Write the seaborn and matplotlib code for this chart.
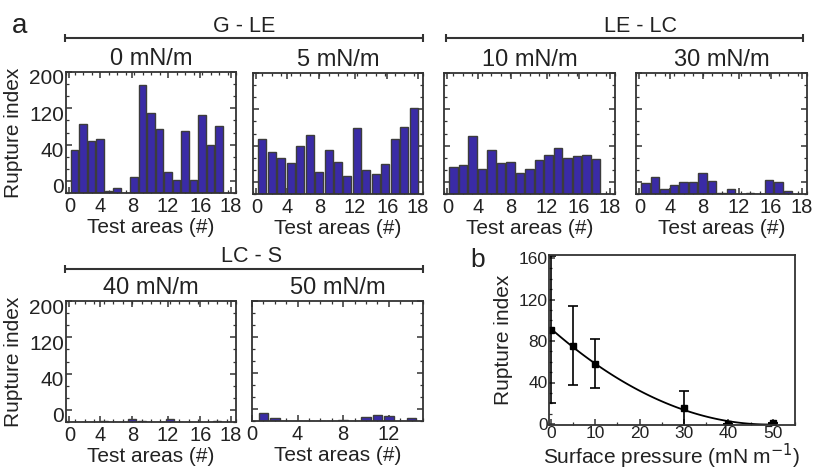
"""Rupture index per test area at several surface pressures (panel a) and its mean trend (panel b)."""
import matplotlib
matplotlib.use("Agg")
import matplotlib.pyplot as plt
import matplotlib.transforms as mtrans
import numpy as np
import seaborn as sns
from matplotlib.lines import Line2D
from matplotlib.ticker import FixedLocator, MultipleLocator

W, H = 816, 470

# --- data (bar axis runs 0..200 in plotted units) ---
rup_0 = [71, 113.5, 85.4, 89.8, 3.9, 8.3, 0, 25.9, 179, 132, 106.3, 34.7, 21, 103, 22, 129.4, 79.3, 110.2]
rup_5 = [90.9, 70, 60, 51.2, 79.9, 97.5, 36.9, 73.3, 53.4, 29.8, 109, 39, 32.5, 50, 90.9, 110.7, 142]
rup_10 = [45.2, 47.5, 96.1, 41.4, 72.4, 51.4, 53, 34.8, 40.9, 56.3, 64.1, 76.2, 59.1, 62.5, 64.1, 58]
rup_30 = [18.7, 28.7, 8.3, 14.9, 19.4, 19.9, 35.3, 21.5, 2.2, 8.3, 0, 1, 0, 22.7, 20.4, 5.5]
rup_40 = [0, 0, 0, 1, 0, 0, 4.5, 1, 0, 0, 5.6, 0, 0, 0, 0, 2.3, 0]
rup_50 = [12.8, 5, 0.5, 0, 0.5, 0, 0, 1.2, 0, 7.1, 10.5, 8.3, 0, 4.5]

titles = ["0 mN/m", "5 mN/m", "10 mN/m", "30 mN/m", "40 mN/m", "50 mN/m"]
groups = ["G - LE", "LE - LC", "LC - S"]
x_tick_labels = ["0", "4", "8", "12", "16", "18"]
x_tick_labels_50 = ["0", "4", "8", "12"]
y_tick_labels = ["0", "40", "120", "200"]

pressure = [0, 5, 10, 30, 40, 50]
rupture = [91, 75.5, 58, 15, 0, 0.7]
rupture_err = [71, 38, 23.5, 17, 0, 0]

BAR = "#3a2ba6"
EDGE = "#3c3c3c"
INK = "#222222"

sns.set_theme(style="ticks")
plt.rcParams["font.family"] = ["Liberation Sans", "DejaVu Sans"]
plt.rcParams.update({
    "axes.edgecolor": "#333333",
    "axes.linewidth": 1.3,
    "text.color": INK,
    "axes.labelcolor": INK,
    "xtick.color": "#333333",
    "ytick.color": "#333333",
    "xtick.labelcolor": INK,
    "ytick.labelcolor": INK,
})
NARROW = ["Liberation Sans Narrow", "Liberation Sans"]

fig = plt.figure(figsize=(W / 100, H / 100), dpi=100)


def px_axes(left, top, right, bottom):
    return fig.add_axes([left / W, 1 - bottom / H, (right - left) / W, (bottom - top) / H])


def px_line(x0, x1, y):
    fig.add_artist(Line2D([x0 / W, x1 / W], [1 - y / H, 1 - y / H], transform=fig.transFigure,
                          color="#333333", lw=1.5, marker="|", markersize=6, markeredgewidth=1.5))


# values, x extent, box (l, t, r, b in px), show y labels
panels = [
    (rup_0, 20, (66, 72, 236, 193), True),
    (rup_5, 18, (253, 73, 423, 194), False),
    (rup_10, 18, (444, 73, 615, 194), False),
    (rup_30, 18, (636, 73, 807, 194), False),
    (rup_40, 18, (66, 301, 236, 422), True),
    (rup_50, 15, (252, 301, 423, 421), False),
]
tick_frac = [0.02, 0.2, 0.39, 0.6, 0.79, 0.97]
label_shift = mtrans.ScaledTranslation(0, -0.05, fig.dpi_scale_trans)

for i, (vals, xmax, box, ylab) in enumerate(panels):
    ax = px_axes(*box)
    pos = np.arange(1, len(vals) + 1)
    sns.barplot(x=pos, y=vals, native_scale=True, color=BAR, saturation=1, edgecolor=EDGE,
                linewidth=1, width=0.85, errorbar=None, ax=ax)
    ax.set_xlim(0, xmax)
    ax.set_ylim(0, 200)

    ax.yaxis.set_major_locator(FixedLocator([20, 80, 140, 200]))
    ax.yaxis.set_minor_locator(MultipleLocator(20))
    ax.xaxis.set_minor_locator(MultipleLocator(1))
    ax.tick_params(which="both", direction="in", top=True, right=True)
    ax.tick_params(which="major", length=4, width=1.1)
    ax.tick_params(which="minor", length=2.5, width=0.9)
    ax.tick_params(axis="x", labelsize=14.5, pad=3)
    ax.tick_params(axis="y", pad=1.5)

    if i == 5:
        ax.set_xticks([0, 4, 8, 12])
        ax.set_xticklabels(x_tick_labels_50)
    else:
        ax.set_xticks([f * xmax for f in tick_frac])
        ax.set_xticklabels(x_tick_labels)

    if ylab:
        ax.set_yticklabels(y_tick_labels, family=NARROW, fontsize=15)
        for t in ax.get_yticklabels():
            t.set_transform(t.get_transform() + label_shift)
        ax.set_ylabel("Rupture index", fontsize=15, labelpad=4)
    else:
        ax.set_yticklabels([])
        ax.set_ylabel("")
    ax.set_xlabel("Test areas (#)", fontsize=15, labelpad=1)
    ax.set_title(titles[i], fontsize=17, pad=5, color=INK)

# group headers over the bar panels
fig.text(244 / W, 1 - 26 / H, groups[0], ha="center", va="center", fontsize=15.5)
px_line(65, 423, 38)
fig.text(640 / W, 1 - 26 / H, groups[1], ha="center", va="center", fontsize=15.5)
px_line(446, 803, 38)
fig.text(252 / W, 1 - 257 / H, groups[2], ha="center", va="center", fontsize=15.5)
px_line(65, 423, 269)

fig.text(20 / W, 1 - 26 / H, "a", ha="center", va="center", fontsize=20)
fig.text(478 / W, 1 - 260 / H, "b", ha="center", va="center", fontsize=19)

# --- panel b: mean rupture index vs surface pressure with quadratic fit ---
axb = px_axes(549, 255, 795, 425)
sns.regplot(x=pressure, y=rupture, order=2, ci=None, scatter=False, color="black",
            line_kws={"lw": 1.3}, ax=axb)
axb.errorbar(pressure, rupture, yerr=rupture_err, fmt="s", ms=5, color="black",
             elinewidth=1.2, capsize=3.5, capthick=1.2, clip_on=True)
axb.set_xlim(-0.4, 55)
axb.set_ylim(-1, 163)
axb.set_xticks([0, 10, 20, 30, 40, 50])
axb.set_yticks([0, 40, 80, 120, 160])
axb.xaxis.set_minor_locator(MultipleLocator(5))
axb.yaxis.set_minor_locator(MultipleLocator(10))
axb.tick_params(which="both", direction="in", top=False, right=False, labelsize=12.5, pad=1)
axb.tick_params(which="major", length=4, width=1.1)
axb.tick_params(which="minor", length=2.5, width=0.9)
axb.set_xlabel("Surface pressure (mN m$^{-1}$)", fontsize=15, labelpad=0)
axb.set_ylabel("Rupture index", fontsize=15, labelpad=4)

fig.savefig("out.png", dpi=100)
